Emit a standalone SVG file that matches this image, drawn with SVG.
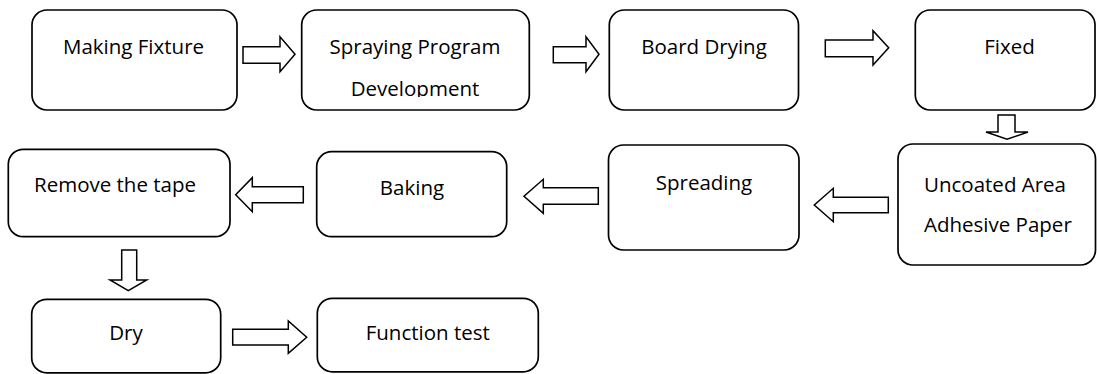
<svg xmlns="http://www.w3.org/2000/svg" width="1097" height="374" viewBox="0 0 1097 374">
<style>
.box{fill:#fff;stroke:#000;stroke-width:1.7}
.arr{fill:#fff;stroke:#000;stroke-width:1.5;stroke-linejoin:miter}
.t{font-family:"Open Sans","Noto Sans",sans-serif;font-size:20.5px;fill:#000;text-anchor:middle}
.l{text-anchor:start}
</style>
<defs>
<clipPath id="clipB2"><rect x="300" y="10" width="232" height="87"/></clipPath>
</defs>
<rect width="1097" height="374" fill="#fff"/>
<g id="connectors">
<polygon class="arr" points="243,46.7 280,46.7 280,36.7 295,54.2 280,71.7 280,63.3 243,63.3"/>
<polygon class="arr" points="553.3,46.7 586,46.7 586,36.7 599,54.2 586,71.7 586,62.7 553.3,62.7"/>
<polygon class="arr" points="825.3,40 873,40 873,30.7 888.7,47.8 873,65 873,56.7 825.3,56.7"/>
<polygon class="arr" points="998,115 1015,115 1015,132 1028,132 1007,139.3 986,132 998,132"/>
<polygon class="arr" points="888.3,197.3 833.3,197.3 833.3,188.3 814.3,205 833.3,221.7 833.3,212.7 888.3,212.7"/>
<polygon class="arr" points="598.3,187.7 543.3,187.7 543.3,179.3 524,196.3 543.3,213.3 543.3,204.3 598.3,204.3"/>
<polygon class="arr" points="303.3,186.7 252.3,186.7 252.3,177.7 235.7,194.7 252.3,211.7 252.3,202.7 303.3,202.7"/>
<polygon class="arr" points="121.7,250 136.7,250 136.7,280 146.7,280 128.3,290.7 110,280 121.7,280"/>
<polygon class="arr" points="232.7,329.3 288.3,329.3 288.3,321 306.7,337.2 288.3,353.3 288.3,345 232.7,345"/>
</g>
<g id="n1"><rect class="box" x="32" y="10" width="205" height="100" rx="15"/><text class="t" x="133.5" y="54">Making Fixture</text></g>
<g id="n2"><rect class="box" x="301.7" y="10" width="227.6" height="100" rx="15"/><g clip-path="url(#clipB2)"><text class="t" x="415" y="54">Spraying Program</text><text class="t" x="415" y="95.5">Development</text></g></g>
<g id="n3"><rect class="box" x="609.3" y="10" width="189.2" height="100" rx="15"/><text class="t" x="704" y="54">Board Drying</text></g>
<g id="n4"><rect class="box" x="915.3" y="10" width="179.7" height="100" rx="15"/><text class="t" x="1009.5" y="54">Fixed</text></g>
<g id="n5"><rect class="box" x="898" y="144" width="197.5" height="121" rx="15"/><text class="t l" x="924" y="191.5">Uncoated Area</text><text class="t l" x="924" y="231.5">Adhesive Paper</text></g>
<g id="n6"><rect class="box" x="608.5" y="145" width="190.5" height="105" rx="15"/><text class="t" x="704" y="190">Spreading</text></g>
<g id="n7"><rect class="box" x="316.7" y="151.7" width="190" height="85" rx="15"/><text class="t" x="412" y="195">Baking</text></g>
<g id="n8"><rect class="box" x="8.3" y="149.3" width="221.7" height="87.4" rx="15"/><text class="t" x="115" y="191.5">Remove the tape</text></g>
<g id="n9"><rect class="box" x="31.7" y="299.3" width="189" height="73.5" rx="15"/><text class="t" x="126" y="340">Dry</text></g>
<g id="n10"><rect class="box" x="317.3" y="298.3" width="221" height="73.5" rx="15"/><text class="t" x="427.8" y="340">Function test</text></g>
</svg>
